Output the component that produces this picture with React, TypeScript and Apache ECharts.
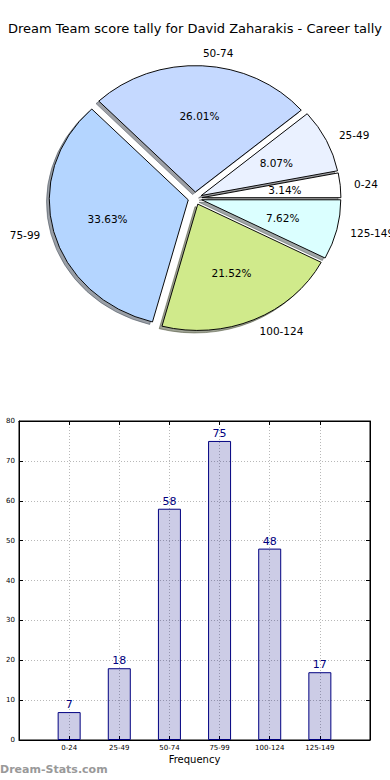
import React, { useEffect, useRef } from "react";
import * as echarts from "echarts";

const titleText = "Dream Team score tally for David Zaharakis - Career tally";
const categories = ["0-24", "25-49", "50-74", "75-99", "100-124", "125-149"];
const counts = [7, 18, 58, 75, 48, 17];
const yTicks = { min: 0, max: 80, step: 10 };
const pieColors = ["#ffffff", "#eaf1ff", "#c5d9ff", "#b4d5ff", "#d0ea8b", "#dbffff"];

const FONT = '"DejaVu Sans", sans-serif';
const PIE = { cx: 195, cy: 198.3, sx: 139, sy: 126.4, explode: 0.05, shadow: 0.02 };

function hexToRgb(h: string) {
  const n = parseInt(h.slice(1), 16);
  return [(n >> 16) & 255, (n >> 8) & 255, n & 255];
}

export default function App() {
  const ref = useRef<HTMLDivElement>(null);
  useEffect(() => {
    if (!ref.current) return;
    const chart = echarts.init(ref.current, null, { renderer: "svg" });
    const total = counts.reduce((a, b) => a + b, 0);

    const renderPie = (params: any, api: any) => {
      const i = params.dataIndex;
      const v = api.value(0);
      let before = 0;
      for (let k = 0; k < i; k++) before += counts[k];
      const t1 = (before / total) * 2 * Math.PI;
      const t2 = ((before + v) / total) * 2 * Math.PI;
      const tm = (t1 + t2) / 2;
      const ox = PIE.cx + PIE.explode * Math.cos(tm) * PIE.sx;
      const oy = PIE.cy - PIE.explode * Math.sin(tm) * PIE.sy;
      const [r, g, b] = hexToRgb(pieColors[i % pieColors.length]);
      const shadowCol = `rgba(${Math.round(r * 0.3)},${Math.round(g * 0.3)},${Math.round(b * 0.3)},0.5)`;
      const wedge = (dx: number, dy: number, fill: string, stroke: string, z2: number) => ({
        type: "group",
        x: ox + dx,
        y: oy + dy,
        scaleY: PIE.sy / PIE.sx,
        children: [
          {
            type: "sector",
            z2,
            shape: { cx: 0, cy: 0, r0: 0, r: PIE.sx, startAngle: -t1, endAngle: -t2, clockwise: false },
            style: { fill, stroke, lineWidth: 1, strokeNoScale: true },
          },
        ],
      });
      const lx = Math.cos(tm) * 1.1;
      const ly = Math.sin(tm) * 1.1;
      const px = Math.cos(tm) * 0.6;
      const py = Math.sin(tm) * 0.6;
      return {
        type: "group",
        children: [
          wedge(-PIE.shadow * PIE.sx, PIE.shadow * PIE.sy, shadowCol, shadowCol, 1),
          wedge(0, 0, pieColors[i % pieColors.length], "#000", 10),
          {
            type: "text",
            z2: 20,
            x: ox + lx * PIE.sx,
            y: oy - ly * PIE.sy,
            style: {
              text: categories[i],
              fill: "#000",
              fontSize: 10.5,
              fontFamily: FONT,
              align: Math.cos(tm) * (1.1 + PIE.explode) > 0 ? "left" : "right",
              verticalAlign: "middle",
            },
          },
          {
            type: "text",
            z2: 20,
            x: ox + px * PIE.sx,
            y: oy - py * PIE.sy,
            style: {
              text: ((v / total) * 100).toFixed(2) + "%",
              fill: "#000",
              fontSize: 10.5,
              fontFamily: FONT,
              align: "center",
              verticalAlign: "middle",
            },
          },
        ],
      };
    };

    const dotted = { color: "#b8b8b8", type: [1, 2] as any, width: 1 };
    const tickStyle = { show: true, inside: true, length: 4, lineStyle: { color: "#000" } };
    const axisLine = { show: true, onZero: false, lineStyle: { color: "#000" } };

    chart.setOption({
      animation: false,
      backgroundColor: "#fff",
      textStyle: { fontFamily: FONT },
      title: {
        text: titleText,
        left: "center",
        top: 22,
        padding: 0,
        textStyle: { fontSize: 13, fontWeight: "normal", color: "#000", fontFamily: FONT },
      },
      grid: [
        {
          left: 19,
          right: 20,
          top: 421,
          bottom: 40,
          show: true,
          borderColor: "#000",
          borderWidth: 1,
          backgroundColor: "transparent",
        },
      ],
      xAxis: [
        {
          type: "value",
          gridIndex: 0,
          min: -1,
          max: 6,
          interval: 1,
          position: "bottom",
          axisLine,
          axisTick: tickStyle,
          axisLabel: {
            formatter: (val: number) => categories[val] ?? "",
            fontSize: 7,
            color: "#000",
            margin: 4,
            fontFamily: FONT,
          },
          splitLine: { show: true, lineStyle: dotted },
          name: "Frequency",
          nameLocation: "middle",
          nameGap: 14,
          nameTextStyle: { fontSize: 10, color: "#000", fontFamily: FONT },
        },
        {
          type: "value",
          gridIndex: 0,
          min: -1,
          max: 6,
          interval: 1,
          position: "top",
          axisLine,
          axisTick: tickStyle,
          axisLabel: { show: false },
          splitLine: { show: false },
        },
      ],
      yAxis: [
        {
          type: "value",
          gridIndex: 0,
          min: yTicks.min,
          max: yTicks.max,
          interval: yTicks.step,
          position: "left",
          axisLine,
          axisTick: tickStyle,
          axisLabel: { fontSize: 7, color: "#000", margin: 4, fontFamily: FONT },
          splitLine: { show: true, lineStyle: dotted },
        },
        {
          type: "value",
          gridIndex: 0,
          min: yTicks.min,
          max: yTicks.max,
          interval: yTicks.step,
          position: "right",
          axisLine,
          axisTick: tickStyle,
          axisLabel: { show: false },
          splitLine: { show: false },
        },
      ],
      series: [
        {
          type: "custom",
          coordinateSystem: "none",
          renderItem: renderPie,
          data: counts,
          silent: true,
        },
        {
          type: "bar",
          xAxisIndex: 0,
          yAxisIndex: 0,
          data: counts.map((v, i) => [i, v]),
          barWidth: 23,
          itemStyle: { color: "rgba(0,0,128,0.2)", borderColor: "#000080", borderWidth: 1 },
          label: {
            show: true,
            position: "top",
            distance: 2,
            color: "#000080",
            fontSize: 11,
            fontFamily: FONT,
          },
        },
      ],
      graphic: [
        {
          type: "text",
          left: 0,
          top: 764,
          style: { text: "Dream-Stats.com", fill: "#999999", fontSize: 11, fontWeight: "bold", fontFamily: FONT },
        },
      ],
    });
    return () => chart.dispose();
  }, []);
  return (
    <div
      ref={ref}
      style={{ position: "fixed", left: 0, top: 0, width: 390, height: 780, background: "#fff" }}
    />
  );
}
